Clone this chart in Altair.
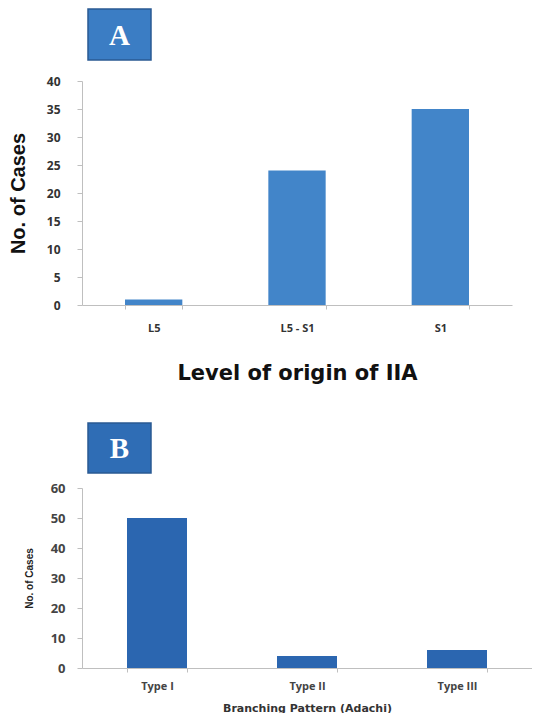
import altair as alt
import pandas as pd

levels = ["L5", "L5 - S1", "S1"]
level_cases = [1, 24, 35]
patterns = ["Type I", "Type II", "Type III"]
pattern_cases = [50, 4, 6]

dfA = pd.DataFrame({"level": levels, "cases": level_cases})
dfB = pd.DataFrame({"pattern": patterns, "cases": pattern_cases})

AXIS_GRAY = "#bfbfbf"
LABEL_FONT = "Open Sans"
TITLE_FONT = "DejaVu Sans"


def badge(letter, fill, top, bottom):
    d = pd.DataFrame({"label": [letter]})
    rect = alt.Chart(d).mark_rect(fill=fill, stroke="#2a5a92", strokeWidth=1.5).encode(
        x=alt.value(6), x2=alt.value(69), y=alt.value(top), y2=alt.value(bottom)
    )
    txt = alt.Chart(d).mark_text(
        font="Liberation Serif", fontWeight="bold", fontSize=29, color="white",
        align="center", baseline="middle"
    ).encode(text="label:N", x=alt.value(37.5), y=alt.value((top + bottom) / 2 + 1))
    return rect + txt


barsA = alt.Chart(dfA).mark_bar(color="#4285c9").encode(
    x=alt.X(
        "level:N", sort=levels,
        scale=alt.Scale(paddingInner=0.6, paddingOuter=0.3),
        axis=alt.Axis(
            title="Level of origin of IIA", labelAngle=0, tickBand="extent",
            ticks=True, tickSize=4, tickColor=AXIS_GRAY, domainColor=AXIS_GRAY,
            labelFont=LABEL_FONT, labelFontSize=11, labelFontWeight="bold",
            labelColor="#333333", labelPadding=13,
            titleFont=TITLE_FONT, titleFontSize=21, titleFontWeight="bold",
            titleColor="#111111", titlePadding=29,
        ),
    ),
    y=alt.Y(
        "cases:Q", scale=alt.Scale(domain=[0, 40]),
        axis=alt.Axis(
            title="No. of Cases", values=list(range(0, 41, 5)), grid=False,
            tickSize=5, tickColor=AXIS_GRAY, domainColor=AXIS_GRAY,
            labelFont=LABEL_FONT, labelFontSize=12, labelFontWeight="bold",
            labelColor="#333333", labelPadding=17,
            titleFont="Liberation Sans Narrow, Liberation Sans", titleFontSize=20,
            titleFontWeight="bold", titleColor="#111111", titlePadding=18,
        ),
    ),
)

chartA = alt.layer(badge("A", "#3b7dc4", -72, -21), barsA).properties(width=430, height=224)

barsB = alt.Chart(dfB).mark_bar(color="#2b66b0").encode(
    x=alt.X(
        "pattern:N", sort=patterns,
        scale=alt.Scale(paddingInner=0.6, paddingOuter=0.3),
        axis=alt.Axis(
            title="Branching Pattern (Adachi)", labelAngle=0, tickBand="extent",
            ticks=True, tickSize=4, tickColor=AXIS_GRAY, domainColor=AXIS_GRAY,
            labelFont=LABEL_FONT, labelFontSize=11, labelFontWeight="bold",
            labelColor="#444444", labelPadding=8,
            titleFont=TITLE_FONT, titleFontSize=11, titleFontWeight="bold",
            titleColor="#333333", titlePadding=11,
        ),
    ),
    y=alt.Y(
        "cases:Q", scale=alt.Scale(domain=[0, 60]),
        axis=alt.Axis(
            title="No. of Cases", values=list(range(0, 61, 10)), grid=False,
            tickSize=5, tickColor=AXIS_GRAY, domainColor=AXIS_GRAY,
            labelFont=LABEL_FONT, labelFontSize=13, labelFontWeight="bold",
            labelColor="#444444", labelPadding=12,
            titleFont="Liberation Sans Narrow, Liberation Sans", titleFontSize=10,
            titleFontWeight="bold", titleColor="#222222", titlePadding=16,
        ),
    ),
)

chartB = alt.layer(badge("B", "#2f6db5", -65, -15), barsB).properties(width=450, height=180)

chart = alt.vconcat(chartA, chartB, spacing=39).properties(
    padding={"left": 0, "top": 0, "right": 0, "bottom": 0}
).configure_view(stroke=None)

chart.save("out.html", embed_options={"renderer": "svg", "actions": False})
